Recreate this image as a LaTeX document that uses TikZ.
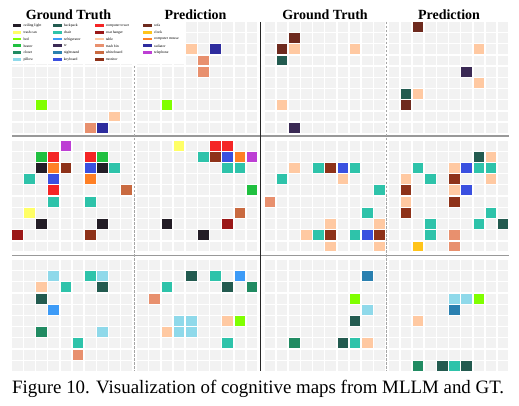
\documentclass[tikz,border=0pt]{standalone}
\usepackage{fontspec}
\setmainfont{Liberation Serif}
\usepackage{xcolor}

\definecolor{ceilinglight}{HTML}{231D26}
\definecolor{trashcan}{HTML}{FFFF66}
\definecolor{bed}{HTML}{80FF00}
\definecolor{heater}{HTML}{20C040}
\definecolor{closet}{HTML}{218B62}
\definecolor{pillow}{HTML}{8FD9EA}
\definecolor{backpack}{HTML}{235B50}
\definecolor{chair}{HTML}{2EC3AA}
\definecolor{refrigerator}{HTML}{3D9BF7}
\definecolor{tv}{HTML}{3B2A55}
\definecolor{nightstand}{HTML}{2A80B0}
\definecolor{keyboard}{HTML}{3A50E0}
\definecolor{computertower}{HTML}{F42525}
\definecolor{coathanger}{HTML}{9B1818}
\definecolor{table}{HTML}{FFC9A2}
\definecolor{trashbin}{HTML}{E8906E}
\definecolor{whiteboard}{HTML}{C96A40}
\definecolor{monitor}{HTML}{8E3219}
\definecolor{sofa}{HTML}{6E2A1E}
\definecolor{clock}{HTML}{FFC41A}
\definecolor{computermouse}{HTML}{FF8025}
\definecolor{radiator}{HTML}{2E2C9E}
\definecolor{telephone}{HTML}{BD3FD4}

\begin{document}
\begin{tikzpicture}[x=1pt, y=-1pt,
  cellbg/.style = {fill=black!5},
  title/.style = {font=\fontsize{14}{16}\selectfont\bfseries, anchor=base},
  legtext/.style = {font=\fontsize{3.7}{4}\selectfont, anchor=west, inner sep=0pt},
  sep/.style = {draw=black!40, line width=1.6pt},
  half/.style = {draw=black!35, dash pattern=on 2.5pt off 1.5pt, line width=0.6pt}]
  \useasboundingbox (0,0) rectangle (519,406);

  % empty map cells
  \foreach \px in {12,137.3,264.7,388.5}
    \foreach \py in {22,140.7,260}
      \foreach \i in {0,...,9}
        \foreach \j in {0,...,9}
          \fill[cellbg] ({\px+\i*12.15},{\py+\j*11.2}) rectangle ++(10.6,9.9);

  % top row of maps
  \foreach \i/\j/\c in {2/7/bed, 8/8/table, 6/9/trashbin, 7/9/radiator}
    \fill[fill=\c] ({12+\i*12.15},{22+\j*11.2}) rectangle ++(10.6,9.9);
  \foreach \i/\j/\c in {4/2/table, 6/2/radiator, 5/3/trashbin, 5/4/trashbin, 2/7/bed}
    \fill[fill=\c] ({137.3+\i*12.15},{22+\j*11.2}) rectangle ++(10.6,9.9);
  \foreach \i/\j/\c in {2/1/sofa, 1/2/sofa, 2/2/table, 7/2/table, 1/3/backpack, 1/7/table, 2/9/tv}
    \fill[fill=\c] ({264.7+\i*12.15},{22+\j*11.2}) rectangle ++(10.6,9.9);
  \foreach \i/\j/\c in {2/0/sofa, 7/2/table, 6/4/tv, 7/5/table, 1/6/backpack, 2/6/table, 1/7/sofa}
    \fill[fill=\c] ({388.5+\i*12.15},{22+\j*11.2}) rectangle ++(10.6,9.9);

  % middle row of maps
  \foreach \i/\j/\c in {4/0/telephone, 2/1/heater, 3/1/computertower, 6/1/computertower,
      7/1/heater, 2/2/ceilinglight, 3/2/computermouse, 4/2/monitor, 6/2/keyboard,
      7/2/ceilinglight, 8/2/chair, 1/3/chair, 3/3/keyboard, 6/3/computermouse,
      3/4/computertower, 9/4/whiteboard, 3/5/chair, 6/5/chair, 1/6/trashcan,
      2/7/ceilinglight, 7/7/ceilinglight, 0/8/coathanger, 6/8/monitor}
    \fill[fill=\c] ({12+\i*12.15},{140.7+\j*11.2}) rectangle ++(10.6,9.9);
  \foreach \i/\j/\c in {3/0/trashcan, 6/0/computertower, 7/0/computertower, 5/1/chair,
      6/1/monitor, 7/1/keyboard, 8/1/computermouse, 9/1/telephone, 7/2/chair, 8/2/chair,
      9/4/heater, 8/6/whiteboard, 2/7/ceilinglight, 7/7/coathanger, 5/8/ceilinglight}
    \fill[fill=\c] ({137.3+\i*12.15},{140.7+\j*11.2}) rectangle ++(10.6,9.9);
  \foreach \i/\j/\c in {2/2/table, 4/2/chair, 5/2/monitor, 6/2/keyboard, 7/2/chair,
      1/3/chair, 6/3/table, 9/4/chair, 0/5/trashbin, 8/6/chair, 5/7/table, 9/7/table,
      3/8/table, 4/8/chair, 5/8/monitor, 7/8/chair, 8/8/keyboard, 9/8/monitor,
      5/9/table, 9/9/table}
    \fill[fill=\c] ({264.7+\i*12.15},{140.7+\j*11.2}) rectangle ++(10.6,9.9);
  \foreach \i/\j/\c in {7/1/backpack, 8/1/table, 2/2/chair, 5/2/table, 6/2/keyboard,
      7/2/chair, 8/2/chair, 1/3/table, 3/3/chair, 5/3/monitor, 8/3/table, 1/4/monitor,
      5/4/table, 6/4/keyboard, 1/5/table, 5/5/monitor, 1/6/monitor, 8/6/chair,
      3/7/chair, 7/7/chair, 9/7/backpack, 3/8/chair, 5/8/trashbin, 2/9/clock, 5/9/trashbin}
    \fill[fill=\c] ({388.5+\i*12.15},{140.7+\j*11.2}) rectangle ++(10.6,9.9);

  % bottom row of maps
  \foreach \i/\j/\c in {3/1/pillow, 6/1/chair, 7/1/pillow, 2/2/table, 4/2/chair,
      7/2/backpack, 2/3/backpack, 3/4/refrigerator, 2/6/closet, 7/6/pillow,
      5/7/chair, 5/8/trashbin}
    \fill[fill=\c] ({12+\i*12.15},{260+\j*11.2}) rectangle ++(10.6,9.9);
  \foreach \i/\j/\c in {4/1/backpack, 6/1/chair, 8/1/refrigerator, 2/2/chair,
      7/2/backpack, 9/2/closet, 1/3/trashbin, 3/5/pillow, 4/5/pillow, 7/5/table,
      8/5/bed, 2/6/table, 3/6/pillow, 4/6/pillow, 7/7/chair}
    \fill[fill=\c] ({137.3+\i*12.15},{260+\j*11.2}) rectangle ++(10.6,9.9);
  \foreach \i/\j/\c in {8/1/nightstand, 7/3/bed, 8/4/pillow, 7/5/backpack,
      2/7/closet, 6/7/backpack, 7/7/chair, 8/7/table}
    \fill[fill=\c] ({264.7+\i*12.15},{260+\j*11.2}) rectangle ++(10.6,9.9);
  \foreach \i/\j/\c in {5/3/pillow, 6/3/pillow, 7/3/bed, 5/4/nightstand, 2/5/table,
      2/9/closet, 4/9/backpack, 5/9/chair, 6/9/backpack}
    \fill[fill=\c] ({388.5+\i*12.15},{260+\j*11.2}) rectangle ++(10.6,9.9);

  % separators
  \draw[sep] (12,136.2) -- (509,136.2);
  \draw[sep] (12,255.5) -- (509,255.5);
  \draw[half] (134.7,22) -- (134.7,371);
  \draw[half] (386.7,22) -- (386.7,371);
  \draw[black!85, line width=0.9pt] (260.3,22) -- (260.3,371);

  % legend
  \fill[white] (12,22) rectangle (185,64.5);
  \foreach \x/\y/\c/\t in {12.7/25.7/ceilinglight/ceiling light, 12.7/32.4/trashcan/trash can,
      12.7/39.1/bed/bed, 12.7/45.8/heater/heater, 12.7/52.5/closet/closet,
      12.7/59.2/pillow/pillow,
      53/25.7/backpack/backpack, 53/32.4/chair/chair, 53/39.1/refrigerator/refrigerator,
      53/45.8/tv/tv, 53/52.5/nightstand/nightstand, 53/59.2/keyboard/keyboard,
      95/25.7/computertower/computer tower, 95/32.4/coathanger/coat hanger,
      95/39.1/table/table, 95/45.8/trashbin/trash bin, 95/52.5/whiteboard/whiteboard,
      95/59.2/monitor/monitor,
      143.3/25.7/sofa/sofa, 143.3/32.4/clock/clock, 143.3/39.1/computermouse/computer mouse,
      143.3/45.8/radiator/radiator, 143.3/52.5/telephone/telephone}
  {
    \fill[fill=\c] ({\x},{\y-1.35}) rectangle ++(8.6,2.7);
    \node[legtext] (leg-\c) at ({\x+10.6},{\y}) {\t};
  }

  \node[title] (gt-left) at (68.5,19.3) {Ground Truth};
  \node[title] (pred-left) at (195.5,19.3) {Prediction};
  \node[title] (gt-right) at (325,19.3) {Ground Truth};
  \node[title] (pred-right) at (449,19.3) {Prediction};

  \node[font=\fontsize{18.9}{22}\selectfont, anchor=base west, inner sep=0pt] (caption)
    at (12,393.3) {Figure 10. Visualization of cognitive maps from MLLM and GT.};
\end{tikzpicture}
\end{document}
